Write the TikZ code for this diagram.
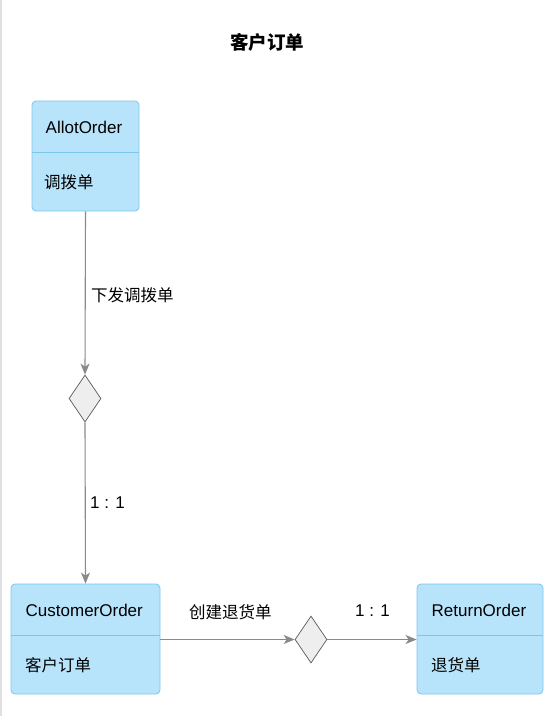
\documentclass[tikz,border=0pt]{standalone}
\usepackage{fontspec}
\setmainfont{Liberation Sans}
\newfontfamily\cjk{Noto Sans CJK SC}
\usetikzlibrary{arrows.meta,shapes.geometric}
\definecolor{boxfill}{HTML}{B8E4FB}
\definecolor{boxline}{HTML}{7CC6EE}
\definecolor{linkgray}{HTML}{8A8A8A}
\definecolor{diafill}{HTML}{EEEEEE}
\tikzset{
	entity/.style={draw=boxline,fill=boxfill,rounded corners=4pt,minimum height=110pt,inner sep=0pt,line width=0.8pt},
	rel/.style={diamond,draw=black!65,fill=diafill,minimum width=32pt,minimum height=47pt,inner sep=0pt,line width=0.7pt},
	txt/.style={anchor=west,inner sep=0pt,font=\fontsize{17}{20}\selectfont},
	cntxt/.style={anchor=west,inner sep=0pt,font=\cjk\fontsize{16.5}{20}\selectfont},
	link/.style={draw=linkgray,line width=1.1pt,-{Stealth[length=11pt,width=9pt,inset=3pt]}},
}
\begin{document}
\begin{tikzpicture}[x=1pt,y=-1pt]
				\useasboundingbox (0,0) rectangle (554,716);
				\draw[black!12,line width=1.5pt] (1,0)--(1,716);
				\node[font=\cjk\bfseries\fontsize{18.5}{22}\selectfont] (title) at (267,42) {客户订单};
				% entities
				\node[entity,minimum width=107pt] (allot) at (85.5,156) {};
				\node[entity,minimum width=149pt] (cust) at (85.5,639) {};
				\node[entity,minimum width=126pt] (ret) at (480,639) {};
				\draw[boxline,line width=0.8pt] (allot.west|-0,152)--(allot.east|-0,152);
				\draw[boxline,line width=0.8pt] (cust.west|-0,635)--(cust.east|-0,635);
				\draw[boxline,line width=0.8pt] (ret.west|-0,635)--(ret.east|-0,635);
				\node[txt] (allotname) at (45.5,127) {AllotOrder};
				\node[cntxt] (allotcn) at (44,182) {调拨单};
				\node[txt] (custname) at (25.5,610) {CustomerOrder};
				\node[cntxt] (custcn) at (25,665) {客户订单};
				\node[txt] (retname) at (431.5,610) {ReturnOrder};
				\node[cntxt] (retcn) at (431,665) {退货单};
				% relations
				\node[rel] (issue) at (85,398.5) {};
				\node[rel] (create) at (311,639.5) {};
				\draw[link] (allot.south)--(issue.north);
				\draw[link] (issue.south)--(cust.north);
				\draw[link] (cust.east|-create)--(create.west);
				\draw[link] (create.east)--(ret.west|-create);
				\node[cntxt] (issuelbl) at (91,295) {下发调拨单};
				\node[txt] (issueratio) at (90,503) {1 : 1};
				\node[cntxt] (createlbl) at (189,612) {创建退货单};
				\node[txt] (createratio) at (355,611) {1 : 1};
\end{tikzpicture}
\end{document}
